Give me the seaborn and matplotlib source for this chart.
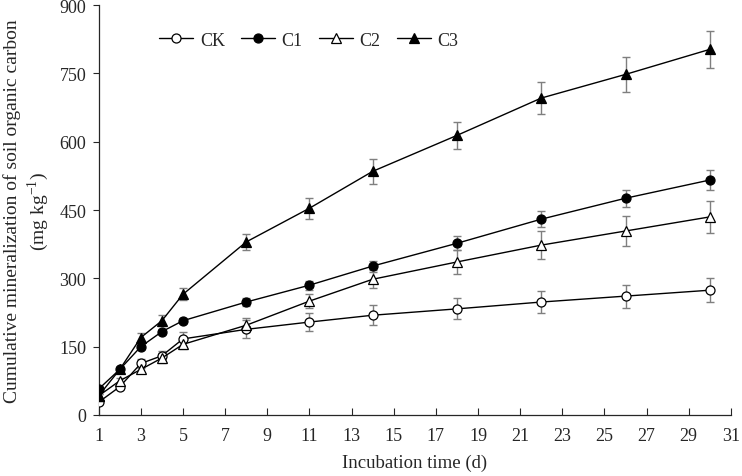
import matplotlib
matplotlib.use("Agg")
import matplotlib.pyplot as plt
import numpy as np
import pandas as pd
import seaborn as sns

# -----------------------------------------------------------------------------
# Data
# -----------------------------------------------------------------------------
DAYS = [1, 2, 3, 4, 5, 8, 11, 14, 18, 22, 26, 30]

CK = [28, 62, 113, 130, 167, 188, 204, 219, 233, 248, 261, 274]
C1 = [57, 100, 150, 183, 207, 248, 285, 327, 377, 430, 476, 516]
C2 = [42, 75, 100, 125, 155, 197, 250, 298, 336, 373, 404, 435]
C3 = [42, 100, 170, 207, 265, 380, 454, 535, 614, 696, 748, 803]

CK_ERR = [5, 6, 10, 10, 15, 20, 20, 22, 23, 25, 25, 27]
C1_ERR = [5, 5, 6, 6, 6, 8, 10, 12, 15, 17, 19, 21]
C2_ERR = [4, 6, 8, 10, 10, 15, 15, 20, 27, 30, 32, 35]
C3_ERR = [4, 5, 10, 12, 13, 18, 23, 27, 30, 35, 38, 40]

SERIES = ["CK", "C1", "C2", "C3"]
X_TICKS = list(range(1, 32, 2))
Y_TICKS = [0, 150, 300, 450, 600, 750, 900]

# -----------------------------------------------------------------------------
# Style
# -----------------------------------------------------------------------------
sns.set_style("ticks")
plt.rcParams["font.family"] = ["Liberation Serif", "DejaVu Serif"]
plt.rcParams["mathtext.fontset"] = "stix"

df = pd.DataFrame({
    "day": DAYS * 4,
    "value": CK + C1 + C2 + C3,
    "err": CK_ERR + C1_ERR + C2_ERR + C3_ERR,
    "series": np.repeat(SERIES, len(DAYS)),
})

styles = {
    "CK": dict(marker="o", markerfacecolor="white", markersize=6.5),
    "C1": dict(marker="o", markerfacecolor="black", markersize=6.5),
    "C2": dict(marker="^", markerfacecolor="white", markersize=6.5),
    "C3": dict(marker="^", markerfacecolor="black", markersize=6.5),
}

fig = plt.figure(figsize=(7.42, 4.77), dpi=100)
ax = fig.add_axes([0.133, 0.128, 0.852, 0.859])

for name in SERIES:
    sub = df[df["series"] == name]
    ax.errorbar(
        sub["day"], sub["value"], yerr=sub["err"],
        fmt="none", ecolor="#7f7f7f", elinewidth=1.0, capsize=3, capthick=1.0,
        zorder=2,
    )
    sns.lineplot(
        data=sub, x="day", y="value", ax=ax,
        color="black", linewidth=1.0, markeredgecolor="black",
        markeredgewidth=0.9, label=name, zorder=3,
        **styles[name],
    )

ax.set_xlim(1, 31)
ax.set_ylim(0, 900)
ax.set_xticks(X_TICKS)
ax.set_yticks(Y_TICKS)
ax.tick_params(axis="x", direction="in", length=5, width=0.8, labelsize=13, pad=9)
ax.tick_params(axis="y", direction="out", length=4, width=0.8, labelsize=13, pad=5)

for side in ["top", "right"]:
    ax.spines[side].set_visible(False)
for side in ["left", "bottom"]:
    ax.spines[side].set_linewidth(0.9)

ax.set_xlabel("Incubation time (d)", fontsize=13.5, labelpad=7)
ax.set_ylabel("Cumulative mineralization of soil organic carbon\n(mg kg$^{\\mathregular{-1}}$)",
              fontsize=14, labelpad=6, linespacing=1.25)

ax.legend(
    loc="upper left", bbox_to_anchor=(0.07, 0.975), ncol=4, frameon=False,
    fontsize=13, handlelength=1.9, handletextpad=0.35, columnspacing=0.9,
)

fig.savefig("out.png", dpi=100)
